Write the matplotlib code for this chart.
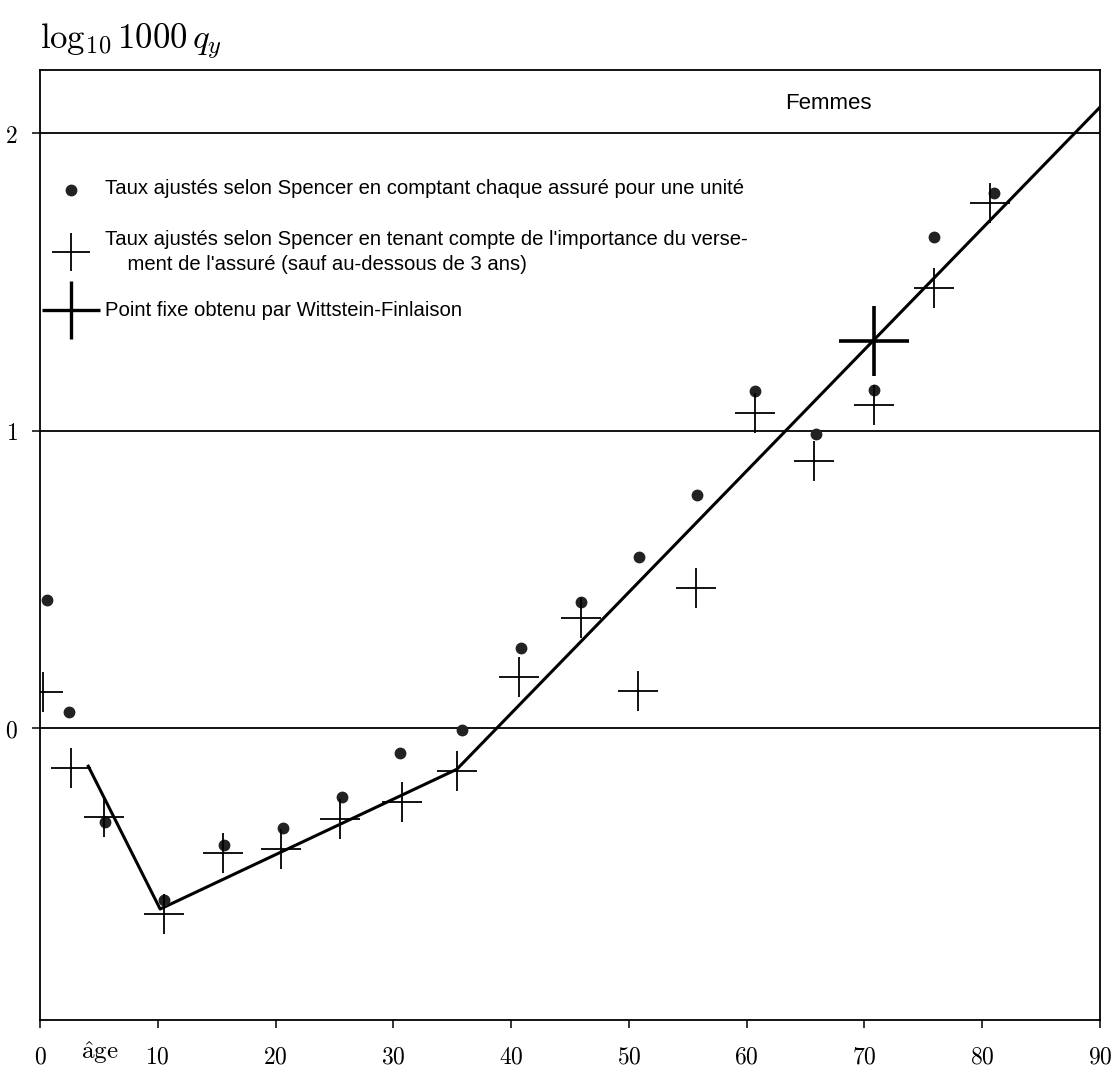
import numpy as np
import matplotlib
matplotlib.use('Agg')
import matplotlib.pyplot as plt

plt.rcParams['mathtext.fontset'] = 'cm'

# taux ajustes selon Spencer, chaque assure pour une unite (points)
age_unit = [0.6, 2.5, 5.5, 10.5, 15.6, 20.6, 25.6, 30.6, 35.8, 40.8,
            45.9, 50.9, 55.8, 60.7, 65.9, 70.8, 75.9, 81.0]
log_unit = [0.43, 0.054, -0.316, -0.578, -0.393, -0.336, -0.232, -0.084, -0.007, 0.269,
            0.425, 0.575, 0.783, 1.134, 0.99, 1.135, 1.65, 1.80]

# taux ajustes selon Spencer, ponderes par le versement (croix)
age_weight = [0.25, 2.6, 5.4, 10.5, 15.5, 20.5, 25.5, 30.7, 35.4, 40.7,
              45.9, 50.8, 55.7, 60.7, 65.7, 70.8, 75.9, 80.7]
log_weight = [0.121, -0.134, -0.30, -0.625, -0.42, -0.407, -0.306, -0.249, -0.143, 0.171,
              0.37, 0.124, 0.47, 1.058, 0.897, 1.086, 1.48, 1.765]

# point fixe Wittstein-Finlaison
age_fixed = [70.8]
log_fixed = [1.30]

# droite ajustee (lignes brisees)
age_line = [4.1, 10.2, 35.4, 90.0]
log_line = [-0.128, -0.608, -0.138, 2.087]

x_ticks = [0, 10, 20, 30, 40, 50, 60, 70, 80, 90]
y_ticks = [0, 1, 2]

legend_labels = [
    "Taux ajustés selon Spencer en comptant chaque assuré pour une unité",
    "Taux ajustés selon Spencer en tenant compte de l'importance du verse-\n"
    "    ment de l'assuré (sauf au-dessous de 3 ans)",
    "Point fixe obtenu par Wittstein-Finlaison",
]

sans = ['Liberation Sans', 'DejaVu Sans']

fig = plt.figure(figsize=(11.13, 10.73), dpi=100)
ax = fig.add_axes([40 / 1113, 53 / 1073, 1060 / 1113, 950 / 1073])

ax.set_xlim(0, 90)
ax.set_ylim(-0.981, 2.212)

for y in y_ticks:
    ax.axhline(y, color='black', lw=1.3, zorder=1)

ax.plot(age_line, log_line, color='black', lw=2.2, zorder=2)
ax.plot(age_unit, log_unit, 'o', color='#222222', ms=7.5, zorder=3)
ax.plot(age_weight, log_weight, '+', color='black', ms=29, mew=1.3, zorder=3)
ax.plot(age_fixed, log_fixed, '+', color='black', ms=50, mew=2.6, zorder=4)

for s in ax.spines.values():
    s.set_linewidth(1.3)

ax.set_xticks(x_ticks)
ax.set_xticklabels(['$%d$' % v for v in x_ticks], fontsize=17)
ax.set_yticks(y_ticks)
ax.set_yticklabels(['$%d$' % v for v in y_ticks], fontsize=17)
ax.tick_params(axis='x', direction='out', length=6, width=1.1, pad=12)
ax.tick_params(axis='y', direction='out', length=6, width=1.1, pad=10)

ax.text(5.1, -1.09, r'$\mathrm{\hat{a}ge}$', fontsize=18, ha='center', va='center',
        transform=ax.transData, clip_on=False)
fig.text(40 / 1113, 1 - 42 / 1073, r'$\log_{10} 1000\, q_y$', fontsize=25, ha='left', va='center')

ax.text(0.703, 0.965, 'Femmes', fontsize=16, family=sans, ha='left', va='center',
        transform=ax.transAxes)

# legende
leg_x = 31 / 1060
ax.plot([leg_x], [1 - 120 / 950], 'o', color='#222222', ms=7.5, transform=ax.transAxes, clip_on=False)
ax.plot([leg_x], [1 - 182 / 950], '+', color='black', ms=27, mew=1.3, transform=ax.transAxes)
ax.plot([leg_x], [1 - 240 / 950], '+', color='black', ms=42, mew=2.4, transform=ax.transAxes)
ax.text(65 / 1060, 1 - 118 / 950, legend_labels[0], fontsize=14.6, family=sans, va='center',
        transform=ax.transAxes)
ax.text(65 / 1060, 1 - 182 / 950, legend_labels[1], fontsize=14.6, family=sans, va='center',
        linespacing=1.45, transform=ax.transAxes)
ax.text(65 / 1060, 1 - 240 / 950, legend_labels[2], fontsize=14.6, family=sans, va='center',
        transform=ax.transAxes)

fig.savefig('out.png', dpi=100)
